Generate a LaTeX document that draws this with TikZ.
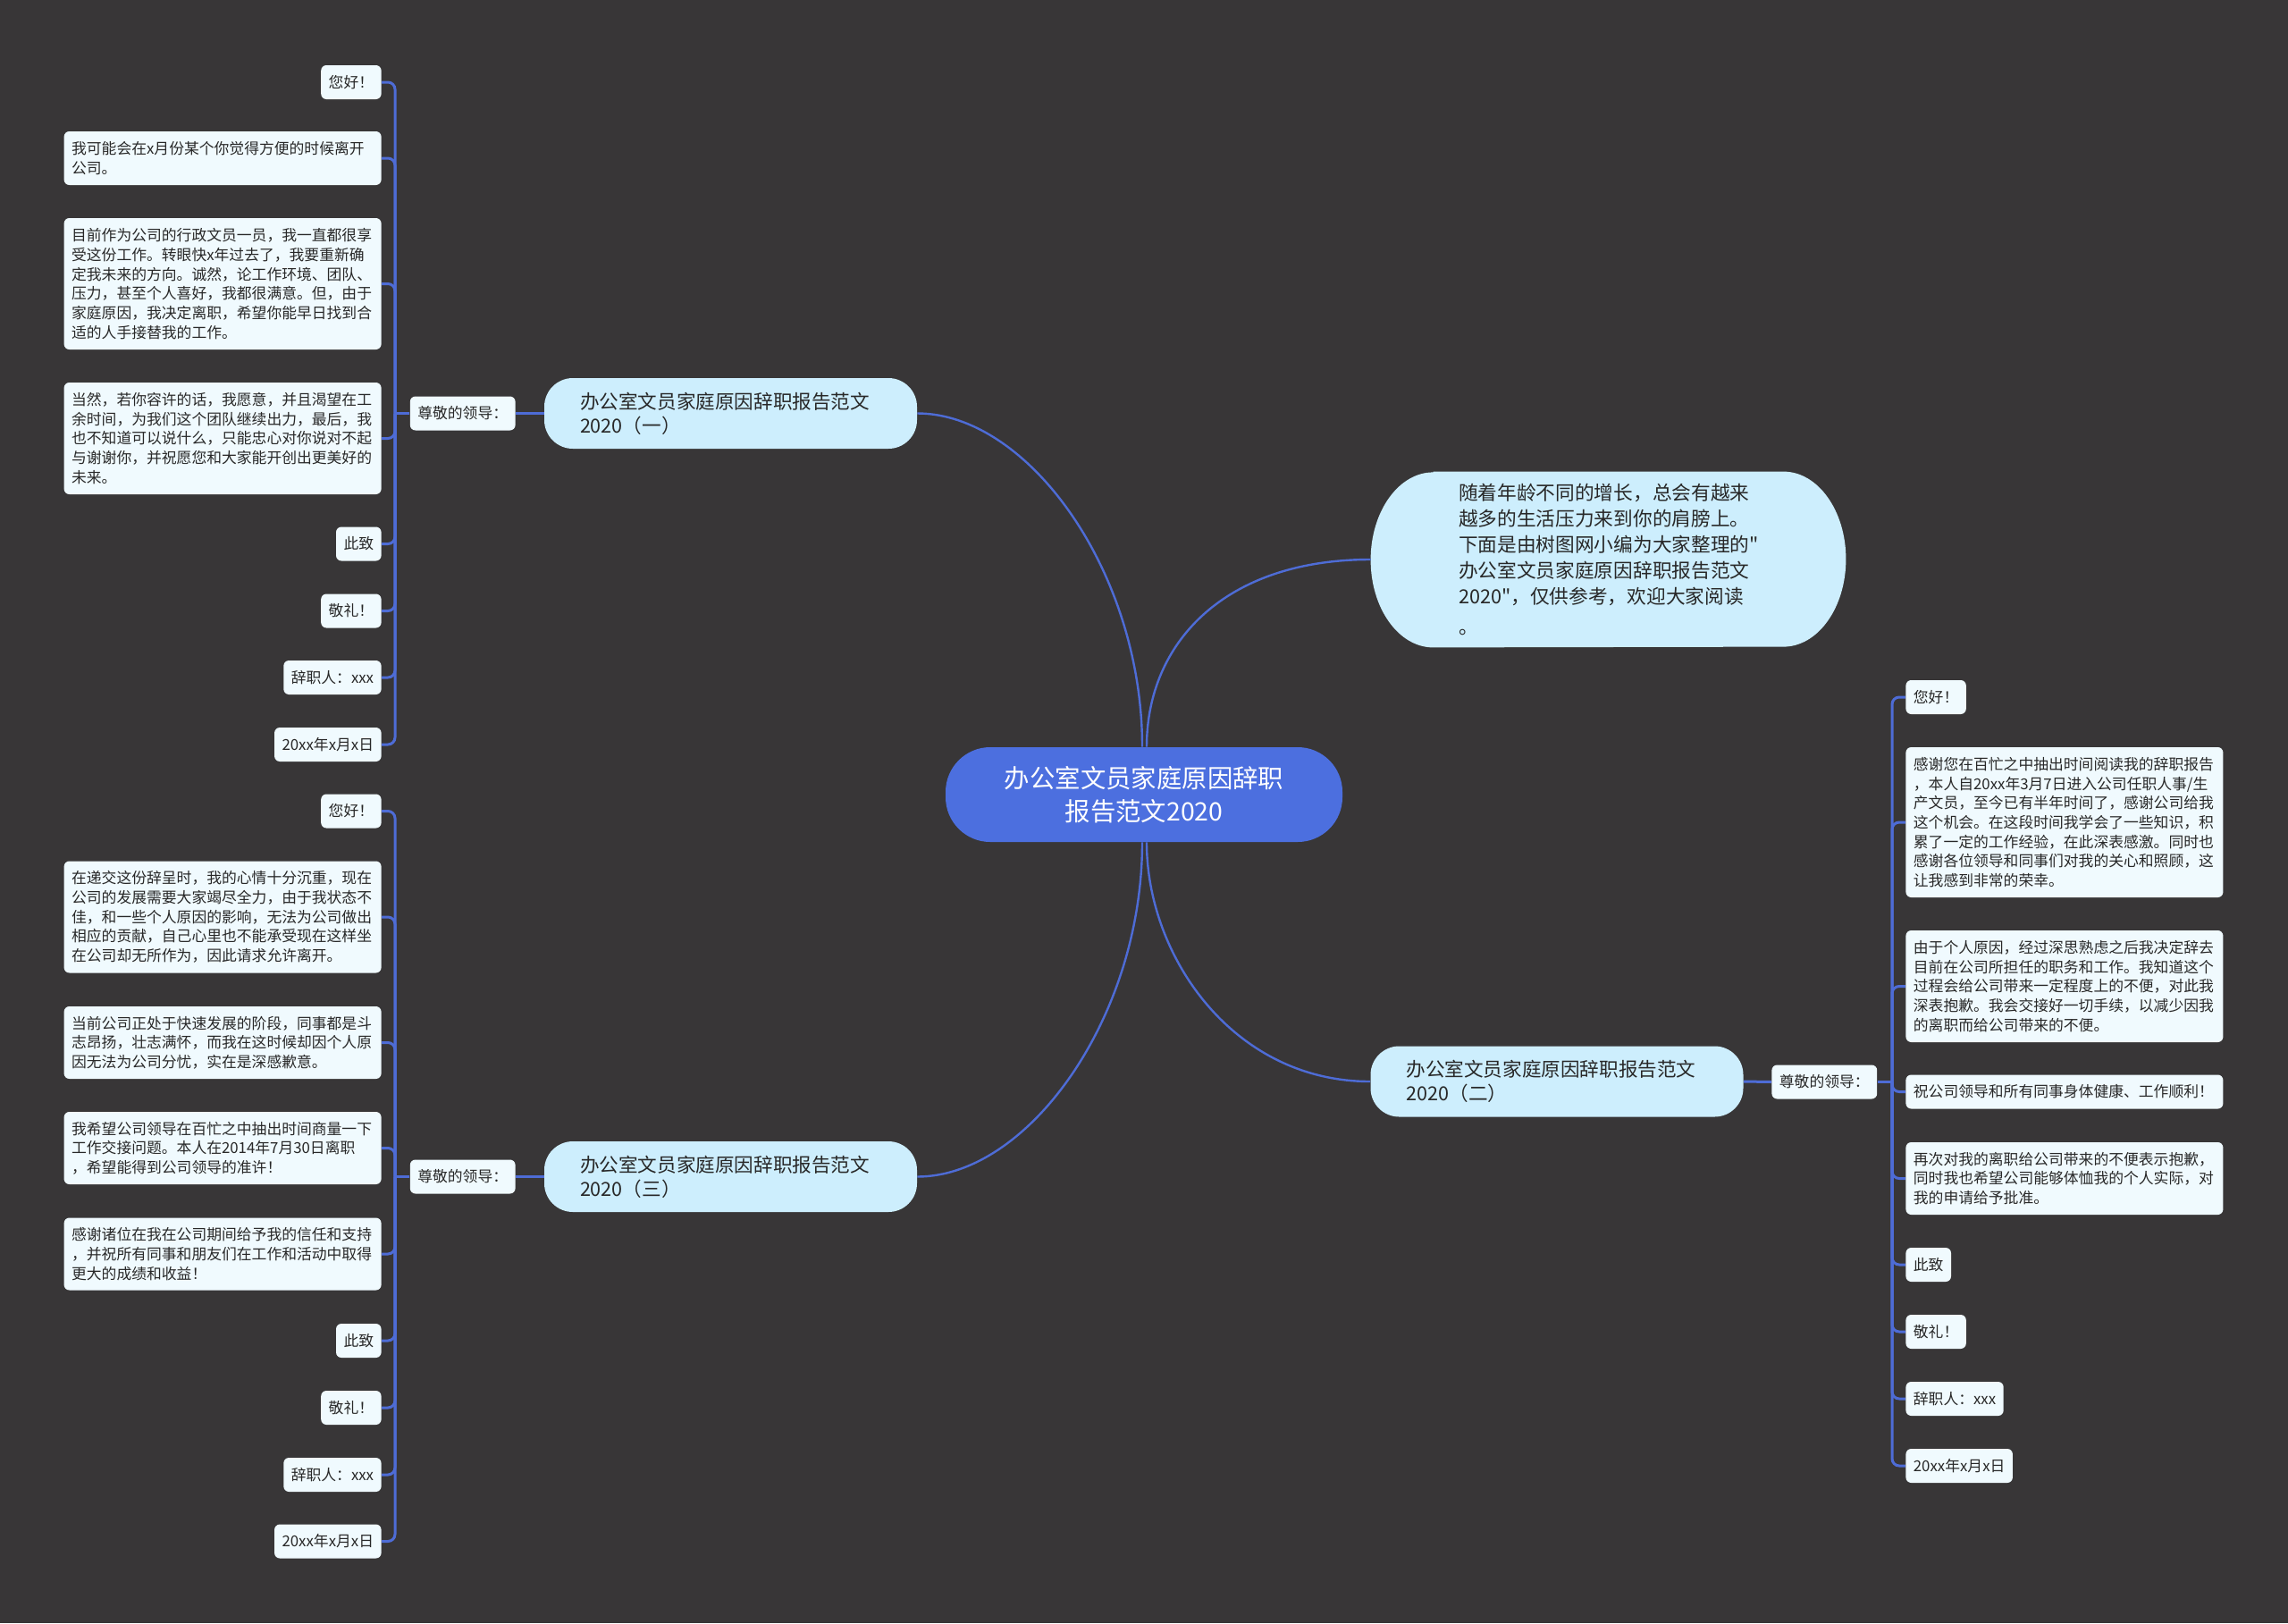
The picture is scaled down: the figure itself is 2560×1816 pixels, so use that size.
\documentclass[tikz,border=0pt]{standalone}
\usepackage{fontspec}
\setmainfont{Noto Sans CJK SC}[Ligatures=TeXOff]
\pgfdeclarelayer{back}
\pgfdeclarelayer{edges}
\pgfsetlayers{back,edges,main}
\definecolor{bgc}{RGB}{56,54,55}
\definecolor{rootc}{RGB}{76,111,223}
\definecolor{brc}{RGB}{205,238,253}
\definecolor{leafc}{RGB}{240,250,254}
\definecolor{linec}{RGB}{78,108,214}
\definecolor{txt}{RGB}{40,40,40}
\begin{document}
\begin{tikzpicture}[x=0.5pt,y=-0.5pt,
  leaf/.style={fill=leafc, rounded corners=3pt, text=txt, font=\fontsize{8.4pt}{10.85pt}\selectfont, inner xsep=4.25pt, inner ysep=0pt, minimum height=19pt, align=left},
  para/.style={leaf, text width=169pt},
  branch/.style={fill=brc, rounded corners=16pt, text=txt, font=\fontsize{10.8pt}{13.35pt}\selectfont, text width=168.5pt, inner xsep=20pt, inner ysep=0pt, minimum height=39.5pt, align=left},
  rootnode/.style={fill=rootc, rounded corners=25pt, text=white, font=\fontsize{14.2pt}{18.3pt}\selectfont, minimum width=222pt, minimum height=53pt, align=center, inner sep=0pt},
  intronode/.style={text=txt, font=\fontsize{10.85pt}{14.5pt}\selectfont, text width=167.5pt, inner xsep=49pt, inner ysep=0pt, minimum height=98pt, align=left},
  br/.style={draw=linec, line width=1.5pt, rounded corners=4pt},
  cc/.style={draw=linec, line width=1.2pt}
]
\useasboundingbox (0,0) rectangle (2560,1816);
\begin{pgfonlayer}{back}
\fill[bgc] (0,0) rectangle (2560,1816);
\end{pgfonlayer}

% root
\node[rootnode] (C) at (1280,889) {办公室文员家庭原因辞职\\报告范文2020};

% intro
\node[intronode] (I) at (1799.5,626) {随着年龄不同的增长，总会有越来\\越多的生活压力来到你的肩膀上。\\下面是由树图网小编为大家整理的"\\办公室文员家庭原因辞职报告范文\\2020"，仅供参考，欢迎大家阅读\\[2.5pt]。};

% branches
\node[branch] (B1) at (817.5,462.5) {办公室文员家庭原因辞职报告范文\\2020（一）};
\node[branch] (B2) at (1742,1210) {办公室文员家庭原因辞职报告范文\\2020（二）};
\node[branch] (B3) at (817.5,1316.5) {办公室文员家庭原因辞职报告范文\\2020（三）};

% labels
\node[leaf, anchor=east] (L1) at (577,462.5) {尊敬的领导：};
\node[leaf, anchor=east] (L3) at (577,1316.5) {尊敬的领导：};
\node[leaf, anchor=west] (R2) at (1982,1210.5) {尊敬的领导：};

\coordinate (j1) at (442,462.5);
\coordinate (j3) at (442,1316.5);
\coordinate (j2) at (2117,1210.5);

% left top leaves
\node[leaf, anchor=east] (L1a) at (427,92) {您好！};
\node[para, anchor=east, minimum height=30pt] (L1b) at (427,177) {我可能会在x月份某个你觉得方便的时候离开\\公司。};
\node[para, anchor=east, minimum height=73.5pt] (L1c) at (427,317.5) {目前作为公司的行政文员一员，我一直都很享\\受这份工作。转眼快x年过去了，我要重新确\\定我未来的方向。诚然，论工作环境、团队、\\压力，甚至个人喜好，我都很满意。但，由于\\家庭原因，我决定离职，希望你能早日找到合\\适的人手接替我的工作。};
\node[para, anchor=east, minimum height=62.5pt] (L1d) at (427,490.5) {当然，若你容许的话，我愿意，并且渴望在工\\余时间，为我们这个团队继续出力，最后，我\\也不知道可以说什么，只能忠心对你说对不起\\与谢谢你，并祝愿您和大家能开创出更美好的\\未来。};
\node[leaf, anchor=east] (L1e) at (427,608.5) {此致};
\node[leaf, anchor=east] (L1f) at (427,683.5) {敬礼！};
\node[leaf, anchor=east] (L1g) at (427,758) {辞职人：xxx};
\node[leaf, anchor=east] (L1h) at (427,833) {20xx年x月x日};

% left bottom leaves
\node[leaf, anchor=east] (L3a) at (427,907.5) {您好！};
\node[para, anchor=east, minimum height=62.5pt] (L3b) at (427,1026) {在递交这份辞呈时，我的心情十分沉重，现在\\公司的发展需要大家竭尽全力，由于我状态不\\佳，和一些个人原因的影响，无法为公司做出\\相应的贡献，自己心里也不能承受现在这样坐\\在公司却无所作为，因此请求允许离开。};
\node[para, anchor=east, minimum height=40.5pt] (L3c) at (427,1166.5) {当前公司正处于快速发展的阶段，同事都是斗\\志昂扬，壮志满怀，而我在这时候却因个人原\\因无法为公司分忧，实在是深感歉意。};
\node[para, anchor=east, minimum height=40.5pt] (L3d) at (427,1284.5) {我希望公司领导在百忙之中抽出时间商量一下\\工作交接问题。本人在2014年7月30日离职\\，希望能得到公司领导的准许！};
\node[para, anchor=east, minimum height=40.5pt] (L3e) at (427,1403) {感谢诸位在我在公司期间给予我的信任和支持\\，并祝所有同事和朋友们在工作和活动中取得\\更大的成绩和收益！};
\node[leaf, anchor=east] (L3f) at (427,1500) {此致};
\node[leaf, anchor=east] (L3g) at (427,1575) {敬礼！};
\node[leaf, anchor=east] (L3h) at (427,1650) {辞职人：xxx};
\node[leaf, anchor=east] (L3i) at (427,1724.5) {20xx年x月x日};

% right leaves
\node[leaf, anchor=west] (R2a) at (2132,780) {您好！};
\node[para, anchor=west, minimum height=84pt] (R2b) at (2132,920) {感谢您在百忙之中抽出时间阅读我的辞职报告\\，本人自20xx年3月7日进入公司任职人事/生\\产文员，至今已有半年时间了，感谢公司给我\\这个机会。在这段时间我学会了一些知识，积\\累了一定的工作经验，在此深表感激。同时也\\感谢各位领导和同事们对我的关心和照顾，这\\让我感到非常的荣幸。};
\node[para, anchor=west, minimum height=62.5pt] (R2c) at (2132,1103.5) {由于个人原因，经过深思熟虑之后我决定辞去\\目前在公司所担任的职务和工作。我知道这个\\过程会给公司带来一定程度上的不便，对此我\\深表抱歉。我会交接好一切手续，以减少因我\\的离职而给公司带来的不便。};
\node[para, anchor=west] (R2d) at (2132,1221.5) {祝公司领导和所有同事身体健康、工作顺利！};
\node[para, anchor=west, minimum height=40.5pt] (R2e) at (2132,1318.5) {再次对我的离职给公司带来的不便表示抱歉，\\同时我也希望公司能够体恤我的个人实际，对\\我的申请给予批准。};
\node[leaf, anchor=west] (R2f) at (2132,1415) {此致};
\node[leaf, anchor=west] (R2g) at (2132,1490) {敬礼！};
\node[leaf, anchor=west] (R2h) at (2132,1565) {辞职人：xxx};
\node[leaf, anchor=west] (R2i) at (2132,1640) {20xx年x月x日};

\begin{pgfonlayer}{back}
% intro shape with elliptical ends
\fill[brc] ([xshift=35pt]I.north west) -- ([xshift=-35pt]I.north east)
  arc[start angle=90, end angle=-90, x radius=35pt, y radius=49pt]
  -- ([xshift=35pt]I.south west)
  arc[start angle=270, end angle=90, x radius=35pt, y radius=49pt] -- cycle;
\end{pgfonlayer}

\begin{pgfonlayer}{edges}
% root connectors
\draw[cc] (B1.east) .. controls +(124,0) and +(0,-196) .. ([xshift=-1pt]C.north);
\draw[cc] (B3.east) .. controls +(124,0) and +(0,196) .. ([xshift=-1pt]C.south);
\draw[cc] ([xshift=1.5pt]C.north) .. controls +(0,-116) and +(-164,0) .. (I.west);
\draw[cc] ([xshift=1.5pt]C.south) .. controls +(0,128) and +(-153,0) .. (B2.west);
% branch to label
\draw[br] (B1.west) -- (L1.east);
\draw[br] (B3.west) -- (L3.east);
\draw[br] (B2.east) -- (R2.west);
\draw[br] (L1.west) -- (j1);
\draw[br] (L3.west) -- (j3);
\draw[br] (R2.east) -- (j2);
% brackets
\foreach \n in {L1a,L1b,L1c,L1d,L1e,L1f,L1g,L1h} \draw[br] (j1) |- (\n.east);
\foreach \n in {L3a,L3b,L3c,L3d,L3e,L3f,L3g,L3h,L3i} \draw[br] (j3) |- (\n.east);
\foreach \n in {R2a,R2b,R2c,R2d,R2e,R2f,R2g,R2h,R2i} \draw[br] (j2) |- (\n.west);
\end{pgfonlayer}
\end{tikzpicture}
\end{document}
